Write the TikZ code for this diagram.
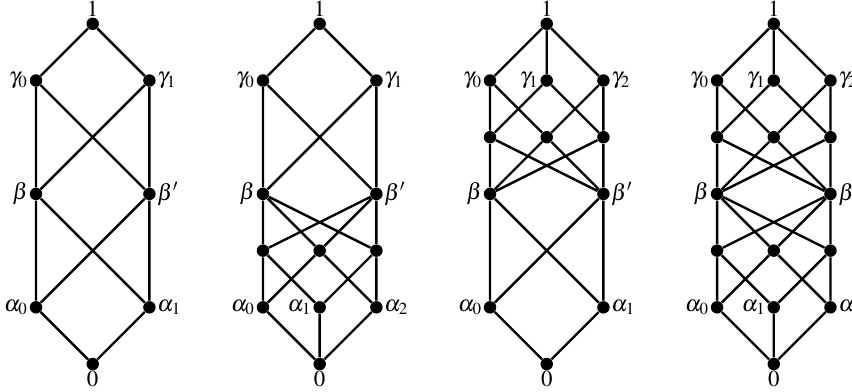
\documentclass[tikz,border=0pt]{standalone}
\usepackage{mathptmx}
\begin{document}
\begin{tikzpicture}[x=1cm,y=1cm,
  dot/.style={circle,fill=black,inner sep=0pt,minimum size=0.22cm},
  edge/.style={line width=1.2pt},
  every label/.style={inner sep=0.5pt,font=\fontsize{11.5}{13}\selectfont},
  label distance=0pt]
\useasboundingbox (0,0) rectangle (15.026,6.896);
% ---------- Diagram A ----------
\begin{scope}[shift={(0.635,0.476)}]
\node[dot,label={[inner sep=0.3pt]above:$1$}] (A1) at (1,6) {};
\node[dot,label=left:$\gamma_0$] (Ag0) at (0,5) {};
\node[dot,label=right:$\gamma_1$] (Ag1) at (2,5) {};
\node[dot,label=left:$\beta$] (Ab) at (0,3) {};
\node[dot,label=right:$\beta'$] (Abp) at (2,3) {};
\node[dot,label=left:$\alpha_0$] (Aa0) at (0,1) {};
\node[dot,label=right:$\alpha_1$] (Aa1) at (2,1) {};
\node[dot,label={[inner sep=0.3pt]below:$0$}] (A0) at (1,0) {};
\draw[edge] (A1)--(Ag0) (A1)--(Ag1)
  (Ag0)--(Ab) (Ag0)--(Abp) (Ag1)--(Ab) (Ag1)--(Abp)
  (Ab)--(Aa0) (Ab)--(Aa1) (Abp)--(Aa0) (Abp)--(Aa1)
  (Aa0)--(A0) (Aa1)--(A0);
\end{scope}
% ---------- Diagram B ----------
\begin{scope}[shift={(4.638,0.476)}]
\node[dot,label={[inner sep=0.3pt]above:$1$}] (B1) at (1,6) {};
\node[dot,label=left:$\gamma_0$] (Bg0) at (0,5) {};
\node[dot,label=right:$\gamma_1$] (Bg1) at (2,5) {};
\node[dot,label=left:$\beta$] (Bb) at (0,3) {};
\node[dot,label=right:$\beta'$] (Bbp) at (2,3) {};
\node[dot] (Bm0) at (0,2) {};
\node[dot] (Bm1) at (1,2) {};
\node[dot] (Bm2) at (2,2) {};
\node[dot,label=left:$\alpha_0$] (Ba0) at (0,1) {};
\node[dot,label=left:$\alpha_1$] (Ba1) at (1,1) {};
\node[dot,label=right:$\alpha_2$] (Ba2) at (2,1) {};
\node[dot,label={[inner sep=0.3pt]below:$0$}] (B0) at (1,0) {};
\draw[edge] (B1)--(Bg0) (B1)--(Bg1)
  (Bg0)--(Bb) (Bg0)--(Bbp) (Bg1)--(Bb) (Bg1)--(Bbp)
  (Bb)--(Bm0) (Bb)--(Bm1) (Bb)--(Bm2)
  (Bbp)--(Bm0) (Bbp)--(Bm1) (Bbp)--(Bm2)
  (Bm0)--(Ba0) (Bm0)--(Ba1) (Bm1)--(Ba0) (Bm1)--(Ba2) (Bm2)--(Ba1) (Bm2)--(Ba2)
  (Ba0)--(B0) (Ba1)--(B0) (Ba2)--(B0);
\end{scope}
% ---------- Diagram C ----------
\begin{scope}[shift={(8.642,0.476)}]
\node[dot,label={[inner sep=0.3pt]above:$1$}] (C1) at (1,6) {};
\node[dot,label=left:$\gamma_0$] (Cg0) at (0,5) {};
\node[dot,label=left:$\gamma_1$] (Cg1) at (1,5) {};
\node[dot,label=right:$\gamma_2$] (Cg2) at (2,5) {};
\node[dot] (Cm0) at (0,4) {};
\node[dot] (Cm1) at (1,4) {};
\node[dot] (Cm2) at (2,4) {};
\node[dot,label=left:$\beta$] (Cb) at (0,3) {};
\node[dot,label=right:$\beta'$] (Cbp) at (2,3) {};
\node[dot,label=left:$\alpha_0$] (Ca0) at (0,1) {};
\node[dot,label=right:$\alpha_1$] (Ca1) at (2,1) {};
\node[dot,label={[inner sep=0.3pt]below:$0$}] (C0) at (1,0) {};
\draw[edge] (C1)--(Cg0) (C1)--(Cg1) (C1)--(Cg2)
  (Cg0)--(Cm0) (Cg0)--(Cm1) (Cg1)--(Cm0) (Cg1)--(Cm2) (Cg2)--(Cm1) (Cg2)--(Cm2)
  (Cm0)--(Cb) (Cm0)--(Cbp) (Cm1)--(Cb) (Cm1)--(Cbp) (Cm2)--(Cb) (Cm2)--(Cbp)
  (Cb)--(Ca0) (Cb)--(Ca1) (Cbp)--(Ca0) (Cbp)--(Ca1)
  (Ca0)--(C0) (Ca1)--(C0);
\end{scope}
% ---------- Diagram D ----------
\begin{scope}[shift={(12.646,0.476)}]
\node[dot,label={[inner sep=0.3pt]above:$1$}] (D1) at (1,6) {};
\node[dot,label=left:$\gamma_0$] (Dg0) at (0,5) {};
\node[dot,label=left:$\gamma_1$] (Dg1) at (1,5) {};
\node[dot,label=right:$\gamma_2$] (Dg2) at (2,5) {};
\node[dot] (Dm0) at (0,4) {};
\node[dot] (Dm1) at (1,4) {};
\node[dot] (Dm2) at (2,4) {};
\node[dot,label=left:$\beta$] (Db) at (0,3) {};
\node[dot,label=right:$\beta'$] (Dbp) at (2,3) {};
\node[dot] (Dn0) at (0,2) {};
\node[dot] (Dn1) at (1,2) {};
\node[dot] (Dn2) at (2,2) {};
\node[dot,label=left:$\alpha_0$] (Da0) at (0,1) {};
\node[dot,label=left:$\alpha_1$] (Da1) at (1,1) {};
\node[dot,label=right:$\alpha_2$] (Da2) at (2,1) {};
\node[dot,label={[inner sep=0.3pt]below:$0$}] (D0) at (1,0) {};
\draw[edge] (D1)--(Dg0) (D1)--(Dg1) (D1)--(Dg2)
  (Dg0)--(Dm0) (Dg0)--(Dm1) (Dg1)--(Dm0) (Dg1)--(Dm2) (Dg2)--(Dm1) (Dg2)--(Dm2)
  (Dm0)--(Db) (Dm0)--(Dbp) (Dm1)--(Db) (Dm1)--(Dbp) (Dm2)--(Db) (Dm2)--(Dbp)
  (Db)--(Dn0) (Db)--(Dn1) (Db)--(Dn2)
  (Dbp)--(Dn0) (Dbp)--(Dn1) (Dbp)--(Dn2)
  (Dn0)--(Da0) (Dn0)--(Da1) (Dn1)--(Da0) (Dn1)--(Da2) (Dn2)--(Da1) (Dn2)--(Da2)
  (Da0)--(D0) (Da1)--(D0) (Da2)--(D0);
\end{scope}
\end{tikzpicture}
\end{document}
